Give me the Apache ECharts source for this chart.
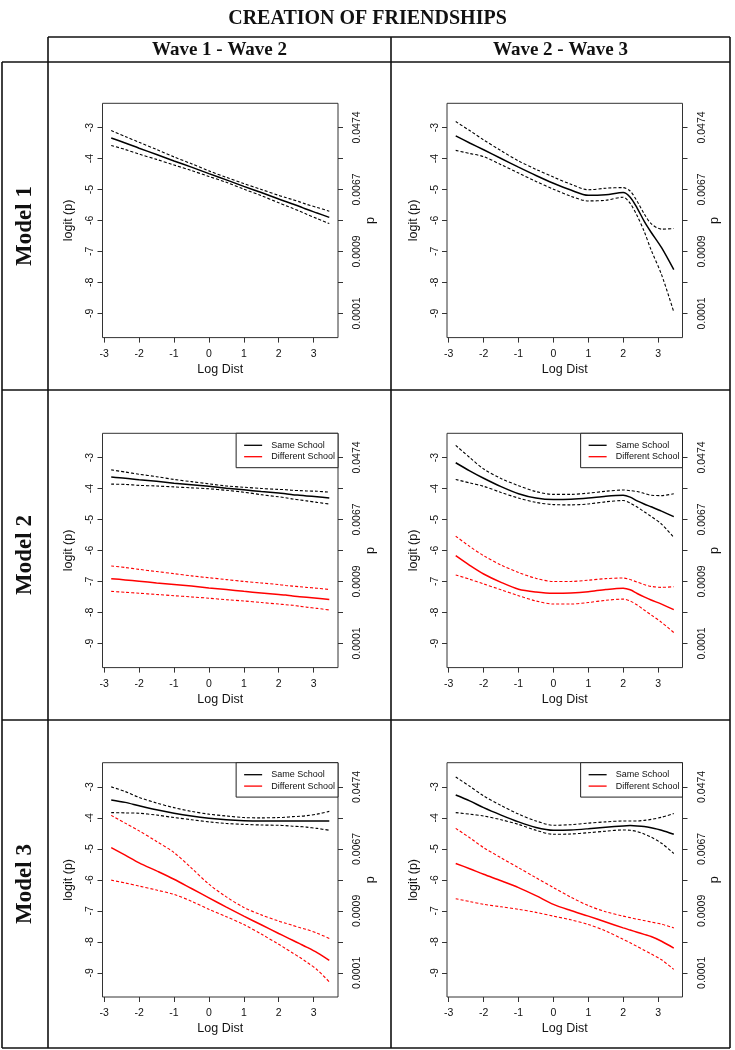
<!DOCTYPE html>
<html>
<head>
<meta charset="utf-8">
<script src="https://cdn.jsdelivr.net/npm/echarts@6/dist/echarts.min.js"></script>
<style>
html, body { margin: 0; padding: 0; background: #fff; }
#chart { width: 735px; height: 1050px; }
</style>
</head>
<body>
<div id="chart"></div>
<script>
// shared log-distance grid for every fitted curve
const logDist = [-2.8, -2.4, -2, -1.5, -1, -0.5, 0, 0.5, 1, 1.5, 2, 2.2, 2.4, 2.6, 2.8, 3.1, 3.45]

const xTicks = [-3, -2, -1, 0, 1, 2, 3]
const yTicks = [-3, -4, -5, -6, -7, -8, -9]
const pTicks = [-3, -5, -7, -9]
const pLabels = ['0.0474', '0.0067', '0.0009', '0.0001']
const waves = ['Wave 1 - Wave 2', 'Wave 2 - Wave 3']
const models = ['Model 1', 'Model 2', 'Model 3']
const groups = ['Same School', 'Different School']

// Model 1
const m1w12Fit = [-3.34, -3.50, -3.67, -3.87, -4.08, -4.28, -4.49, -4.69, -4.90, -5.10, -5.31, -5.39, -5.47, -5.55, -5.64, -5.76, -5.90]
const m1w12Up = [-3.10, -3.29, -3.48, -3.71, -3.95, -4.17, -4.40, -4.61, -4.81, -5.00, -5.19, -5.26, -5.33, -5.40, -5.48, -5.58, -5.70]
const m1w12Lo = [-3.58, -3.71, -3.86, -4.03, -4.21, -4.39, -4.58, -4.77, -4.99, -5.20, -5.43, -5.52, -5.61, -5.70, -5.80, -5.94, -6.10]
const m1w23Fit = [-3.27, -3.50, -3.72, -4.00, -4.28, -4.55, -4.80, -5.02, -5.19, -5.17, -5.10, -5.25, -5.60, -6.02, -6.38, -6.88, -7.59]
const m1w23Up = [-2.81, -3.10, -3.40, -3.75, -4.08, -4.35, -4.60, -4.83, -5.01, -4.96, -4.94, -5.05, -5.38, -5.78, -6.10, -6.28, -6.26]
const m1w23Lo = [-3.74, -3.84, -3.94, -4.20, -4.47, -4.74, -4.99, -5.22, -5.37, -5.35, -5.25, -5.45, -5.85, -6.35, -6.95, -7.75, -8.95]

// Model 2
const m2w12SameFit = [-3.63, -3.67, -3.72, -3.77, -3.83, -3.88, -3.93, -3.99, -4.04, -4.10, -4.15, -4.17, -4.20, -4.22, -4.24, -4.27, -4.31]
const m2w12SameUp = [-3.40, -3.47, -3.54, -3.62, -3.71, -3.78, -3.85, -3.92, -3.96, -4.00, -4.03, -4.04, -4.06, -4.07, -4.08, -4.09, -4.12]
const m2w12SameLo = [-3.86, -3.87, -3.90, -3.92, -3.95, -3.98, -4.01, -4.06, -4.12, -4.20, -4.27, -4.30, -4.34, -4.37, -4.40, -4.45, -4.50]
const m2w12DiffFit = [-6.91, -6.95, -6.99, -7.05, -7.10, -7.15, -7.21, -7.26, -7.32, -7.37, -7.42, -7.44, -7.47, -7.49, -7.51, -7.54, -7.58]
const m2w12DiffUp = [-6.50, -6.55, -6.61, -6.68, -6.75, -6.82, -6.88, -6.94, -7.00, -7.05, -7.10, -7.13, -7.15, -7.17, -7.19, -7.22, -7.26]
const m2w12DiffLo = [-7.32, -7.35, -7.38, -7.42, -7.46, -7.50, -7.54, -7.59, -7.63, -7.68, -7.73, -7.75, -7.77, -7.80, -7.83, -7.87, -7.92]
const m2w23SameFit = [-3.17, -3.43, -3.67, -3.94, -4.17, -4.31, -4.36, -4.35, -4.31, -4.25, -4.22, -4.28, -4.40, -4.50, -4.59, -4.73, -4.91]
const m2w23SameUp = [-2.61, -3.00, -3.37, -3.68, -3.91, -4.10, -4.19, -4.19, -4.15, -4.09, -4.05, -4.07, -4.10, -4.16, -4.22, -4.23, -4.17]
const m2w23SameLo = [-3.71, -3.82, -3.93, -4.13, -4.31, -4.45, -4.52, -4.53, -4.50, -4.43, -4.39, -4.47, -4.60, -4.75, -4.90, -5.15, -5.58]
const m2w23DiffFit = [-6.17, -6.48, -6.76, -7.03, -7.25, -7.34, -7.38, -7.37, -7.33, -7.26, -7.22, -7.27, -7.39, -7.50, -7.60, -7.73, -7.91]
const m2w23DiffUp = [-5.54, -5.87, -6.17, -6.47, -6.71, -6.90, -7.00, -7.00, -6.96, -6.91, -6.89, -6.94, -7.02, -7.10, -7.16, -7.19, -7.17]
const m2w23DiffLo = [-6.79, -6.93, -7.08, -7.27, -7.46, -7.63, -7.73, -7.73, -7.68, -7.61, -7.57, -7.63, -7.76, -7.92, -8.08, -8.32, -8.65]

// Model 3
const m3w12SameFit = [-3.42, -3.50, -3.61, -3.74, -3.85, -3.94, -4.01, -4.06, -4.09, -4.10, -4.10, -4.10, -4.10, -4.10, -4.10, -4.10, -4.10]
const m3w12SameUp = [-3.00, -3.15, -3.34, -3.52, -3.67, -3.79, -3.88, -3.94, -3.99, -4.00, -3.99, -3.98, -3.96, -3.95, -3.93, -3.88, -3.79]
const m3w12SameLo = [-3.83, -3.84, -3.85, -3.91, -3.99, -4.06, -4.13, -4.18, -4.21, -4.23, -4.24, -4.25, -4.27, -4.28, -4.30, -4.34, -4.40]
const m3w12DiffFit = [-4.96, -5.20, -5.45, -5.71, -5.98, -6.28, -6.58, -6.88, -7.17, -7.45, -7.73, -7.84, -7.95, -8.06, -8.17, -8.35, -8.60]
const m3w12DiffUp = [-3.92, -4.17, -4.42, -4.76, -5.12, -5.62, -6.14, -6.55, -6.89, -7.13, -7.33, -7.40, -7.47, -7.54, -7.60, -7.72, -7.89]
const m3w12DiffLo = [-6.01, -6.10, -6.20, -6.33, -6.47, -6.69, -6.95, -7.19, -7.44, -7.75, -8.08, -8.22, -8.36, -8.50, -8.65, -8.90, -9.29]
const m3w23SameFit = [-3.26, -3.45, -3.67, -3.91, -4.13, -4.31, -4.40, -4.39, -4.35, -4.30, -4.26, -4.25, -4.26, -4.28, -4.32, -4.40, -4.53]
const m3w23SameUp = [-2.68, -2.98, -3.29, -3.60, -3.88, -4.10, -4.24, -4.22, -4.17, -4.13, -4.10, -4.10, -4.10, -4.08, -4.05, -3.98, -3.86]
const m3w23SameLo = [-3.83, -3.88, -3.94, -4.06, -4.21, -4.40, -4.53, -4.52, -4.48, -4.43, -4.39, -4.40, -4.44, -4.52, -4.62, -4.82, -5.15]
const m3w23DiffFit = [-5.47, -5.64, -5.82, -6.03, -6.25, -6.51, -6.79, -6.99, -7.17, -7.36, -7.55, -7.62, -7.69, -7.76, -7.83, -7.98, -8.20]
const m3w23DiffUp = [-4.34, -4.64, -4.96, -5.29, -5.61, -5.93, -6.25, -6.56, -6.83, -7.03, -7.17, -7.22, -7.27, -7.31, -7.36, -7.43, -7.55]
const m3w23DiffLo = [-6.61, -6.70, -6.79, -6.87, -6.95, -7.05, -7.17, -7.29, -7.44, -7.65, -7.92, -8.03, -8.15, -8.27, -8.39, -8.58, -8.89]

// panels in reading order, each curve = [group, fit, upper, lower]
const panels = [
  { row: 0, col: 0, legend: false, curves: [[0, m1w12Fit, m1w12Up, m1w12Lo]] },
  { row: 0, col: 1, legend: false, curves: [[0, m1w23Fit, m1w23Up, m1w23Lo]] },
  { row: 1, col: 0, legend: true, curves: [[0, m2w12SameFit, m2w12SameUp, m2w12SameLo], [1, m2w12DiffFit, m2w12DiffUp, m2w12DiffLo]] },
  { row: 1, col: 1, legend: true, curves: [[0, m2w23SameFit, m2w23SameUp, m2w23SameLo], [1, m2w23DiffFit, m2w23DiffUp, m2w23DiffLo]] },
  { row: 2, col: 0, legend: true, curves: [[0, m3w12SameFit, m3w12SameUp, m3w12SameLo], [1, m3w12DiffFit, m3w12DiffUp, m3w12DiffLo]] },
  { row: 2, col: 1, legend: true, curves: [[0, m3w23SameFit, m3w23SameUp, m3w23SameLo], [1, m3w23DiffFit, m3w23DiffUp, m3w23DiffLo]] }
]

// layout (pixels)
const W = 735
const colLeft = [102.5, 447]
const rowTop = [103.3, 433.3, 762.7]
const plotW = 235.5
const plotH = 234.3
const colors = ['#000000', '#ff0000']
const sans = 'Liberation Sans'
const serif = 'Liberation Serif'
const ink = '#111'

const rules = [
  [48, 37, 730, 37], [2, 62, 730, 62], [2, 390, 730, 390], [2, 720, 730, 720], [2, 1048, 730, 1048],
  [2, 62, 2, 1048], [48, 37, 48, 1048], [391, 37, 391, 1048], [730, 37, 730, 1048]
]

const pair = arr => logDist.map((x, i) => [x, arr[i]])

const grid = []
const xAxis = []
const yAxis = []
const series = []
const legend = []

panels.forEach((p, k) => {
  grid.push({
    left: colLeft[p.col], top: rowTop[p.row], width: plotW, height: plotH,
    show: true, borderColor: '#333', borderWidth: 1, backgroundColor: 'transparent'
  })
  xAxis.push({
    gridIndex: k, type: 'value', min: -3.05, max: 3.7,
    name: 'Log Dist', nameLocation: 'middle', nameGap: 25,
    nameTextStyle: { fontFamily: sans, fontSize: 12.5, color: ink },
    axisLine: { show: false, onZero: false },
    splitLine: { show: false },
    axisTick: { customValues: xTicks, length: 5, lineStyle: { color: '#333' } },
    axisLabel: { customValues: xTicks, margin: 11, fontFamily: sans, fontSize: 10.5, color: ink }
  })
  yAxis.push({
    gridIndex: k, type: 'value', position: 'left', min: -9.78, max: -2.22,
    name: 'logit (p)', nameLocation: 'middle', nameRotate: 90, nameGap: 27,
    nameTextStyle: { fontFamily: sans, fontSize: 12.5, color: ink },
    axisLine: { show: false, onZero: false },
    splitLine: { show: false },
    axisTick: { customValues: yTicks, length: 5, lineStyle: { color: '#333' } },
    axisLabel: { customValues: yTicks, rotate: 90, margin: 6.5, fontFamily: sans, fontSize: 10.5, color: ink }
  })
  yAxis.push({
    gridIndex: k, type: 'value', position: 'right', min: -9.78, max: -2.22,
    name: 'p', nameLocation: 'middle', nameRotate: 90, nameGap: 25,
    nameTextStyle: { fontFamily: sans, fontSize: 12.5, color: ink },
    axisLine: { show: false, onZero: false },
    splitLine: { show: false },
    axisTick: { customValues: yTicks, length: 5, lineStyle: { color: '#333' } },
    axisLabel: {
      customValues: pTicks, rotate: 90, margin: 14, fontFamily: sans, fontSize: 10.5, color: ink,
      formatter: v => pLabels[pTicks.indexOf(v)]
    }
  })
  p.curves.forEach(([g, fit, up, lo]) => {
    const base = { type: 'line', xAxisIndex: k, yAxisIndex: 2 * k, showSymbol: false, symbol: 'none', smooth: 0.3, silent: true, animation: false }
    series.push(Object.assign({}, base, {
      name: groups[g], data: pair(fit),
      itemStyle: { color: colors[g] }, lineStyle: { color: colors[g], width: 1.5 }
    }))
    series.push(Object.assign({}, base, {
      name: groups[g] + ' upper', data: pair(up),
      itemStyle: { color: colors[g] }, lineStyle: { color: colors[g], width: 1.1, type: [3, 2] }
    }))
    series.push(Object.assign({}, base, {
      name: groups[g] + ' lower', data: pair(lo),
      itemStyle: { color: colors[g] }, lineStyle: { color: colors[g], width: 1.1, type: [3, 2] }
    }))
  })
  if (p.legend) {
    legend.push({
      data: groups, orient: 'vertical', selectedMode: false,
      right: W - (colLeft[p.col] + plotW), top: rowTop[p.row],
      icon: 'rect', itemWidth: 18, itemHeight: 1.3, itemGap: 1.4,
      padding: [7, 3, 6, 8], borderColor: '#222', borderWidth: 1, borderRadius: 0,
      backgroundColor: '#fff',
      textStyle: { fontFamily: sans, fontSize: 9, lineHeight: 10, color: ink, padding: [0, 0, 0, 4] }
    })
  }
})

const graphic = []
rules.forEach(([x1, y1, x2, y2]) => {
  graphic.push({ type: 'line', silent: true, shape: { x1, y1, x2, y2 }, style: { stroke: ink, lineWidth: 1.6 } })
})
const headText = (text, x, y, size, rotation) => ({
  type: 'text', x, y, rotation: rotation || 0, silent: true,
  style: {
    text, font: 'bold ' + size + 'px "' + serif + '"', fill: ink,
    textAlign: 'center', textVerticalAlign: 'middle', align: 'center', verticalAlign: 'middle'
  }
})
graphic.push(headText(waves[0], 219.5, 50, 19))
graphic.push(headText(waves[1], 560.5, 50, 19))
models.forEach((m, i) => {
  const mid = [226, 555, 884][i]
  graphic.push(headText(m, 25, mid, 23, Math.PI / 2))
})

const chart = echarts.init(document.getElementById('chart'), null, { renderer: 'canvas' })
chart.setOption({
  animation: false,
  backgroundColor: '#fff',
  title: {
    text: 'CREATION OF FRIENDSHIPS', left: 'center', top: 4,
    textStyle: { fontFamily: serif, fontWeight: 'bold', fontSize: 20, color: ink }
  },
  grid, xAxis, yAxis, series, legend, graphic
})
</script>
</body>
</html>
